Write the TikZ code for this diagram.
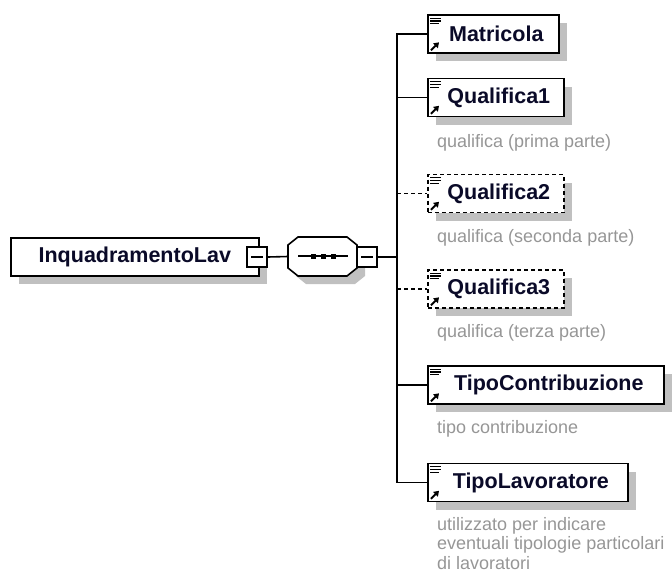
\documentclass[tikz,border=0pt]{standalone}
\usepackage{fontspec}
\setmainfont{Liberation Sans}
\usetikzlibrary{shadows,calc,arrows.meta}
\definecolor{shadowgray}{RGB}{192,192,192}
\definecolor{namecol}{RGB}{10,10,40}
\definecolor{desccol}{RGB}{150,150,150}
\tikzset{
  elem/.style={draw=black, line width=1.6pt, fill=white, minimum height=38pt,
    inner sep=0pt, anchor=west, font=\bfseries\fontsize{21.5}{24}\selectfont, text=namecol,
    drop shadow={shadow xshift=8pt, shadow yshift=-8pt, fill=shadowgray, opacity=1}},
  optelem/.style={elem, dash pattern=on 4pt off 3pt},
  desc/.style={anchor=base west, inner sep=0pt, font=\fontsize{18}{19.5}\selectfont,
    text=desccol, align=left},
  conn/.style={line width=1.6pt},
  optconn/.style={conn, dash pattern=on 4pt off 3pt},
  minusbox/.style={draw=black, line width=1.6pt, fill=white, minimum size=20pt, inner sep=0pt},
  iconline/.style={line width=1.1pt},
  iconarrow/.style={line width=2pt, -{Triangle[length=5pt,width=6.5pt]}},
}
\newcommand\elicons[1]{%
  \draw[iconline] ($(#1.north west)+(3,4)$) -- +(11,0);
  \draw[iconline] ($(#1.north west)+(3,6.8)$) -- +(11,0);
  \draw[iconline] ($(#1.north west)+(3,9.6)$) -- +(9,0);
  \draw[iconarrow] ($(#1.south west)+(4,-3.5)$) -- +(8,-8);
}
\begin{document}
\begin{tikzpicture}[x=1pt,y=-1pt]
\useasboundingbox (0,0) rectangle (672,574);

% root element
\node[elem, minimum width=248pt] (root) at (10,257) {InquadramentoLav};
\node[minusbox] (m1) at (257,257) {};
\draw[line width=1.3pt] ($(m1.center)+(-6,0)$) -- ($(m1.center)+(6,0)$);

% sequence compositor
\node[minimum width=69pt, minimum height=39pt, inner sep=0pt] (seq) at (322.5,256.5) {};
\fill[shadowgray, shift={(8,8)}] (298,237) -- (347,237) -- (357,245) -- (357,268) -- (347,276) -- (298,276) -- (288,268) -- (288,245) -- cycle;
\draw[conn, fill=white] (298,237) -- (347,237) -- (357,245) -- (357,268) -- (347,276) -- (298,276) -- (288,268) -- (288,245) -- cycle;
\draw[line width=1.3pt] (298,256) -- (348,256);
\fill (311,253.5) rectangle +(5,5);
\fill (321,253.5) rectangle +(5,5);
\fill (331,253.5) rectangle +(5,5);
\node[minusbox] (m2) at (367,257) {};
\draw[line width=1.3pt] ($(m2.center)+(-6,0)$) -- ($(m2.center)+(6,0)$);
\draw[conn] (m1.east) -- (seq.west);

% children
\node[elem, minimum width=131pt] (mat) at (427,34) {\hspace*{6pt}Matricola};
\node[elem, minimum width=136pt] (q1) at (427,97.5) {\hspace*{6pt}Qualifica1};
\node[optelem, minimum width=136pt] (q2) at (427,193.5) {\hspace*{6pt}Qualifica2};
\node[optelem, minimum width=136pt] (q3) at (427,289) {\hspace*{6pt}Qualifica3};
\node[elem, minimum width=236pt] (tc) at (427,385) {\hspace*{6pt}TipoContribuzione};
\node[elem, minimum width=200pt] (tl) at (427,482.5) {\hspace*{6pt}TipoLavoratore};
\elicons{mat}\elicons{q1}\elicons{q2}\elicons{q3}\elicons{tc}\elicons{tl}

% descriptions
\node[desc] (d1) at (437,147) {qualifica (prima parte)};
\node[desc] (d2) at (437,242) {qualifica (seconda parte)};
\node[desc] (d3) at (437,337) {qualifica (terza parte)};
\node[desc] (d4) at (437,433) {tipo contribuzione};
\node[desc, anchor=north west] (d5) at (437,517) {utilizzato per indicare\\eventuali tipologie particolari\\di lavoratori};

% connectors
\coordinate (tr) at (397,257);
\draw[conn] (m2.east) -- (tr);
\draw[conn] (mat.west) -- (mat.west -| tr) -- (tl.west -| tr) -- (tl.west);
\draw[conn] (q1.west -| tr) -- (q1.west);
\draw[conn] (tc.west -| tr) -- (tc.west);
\draw[optconn] (q2.west -| tr) -- (q2.west);
\draw[optconn] (q3.west -| tr) -- (q3.west);
\end{tikzpicture}
\end{document}
